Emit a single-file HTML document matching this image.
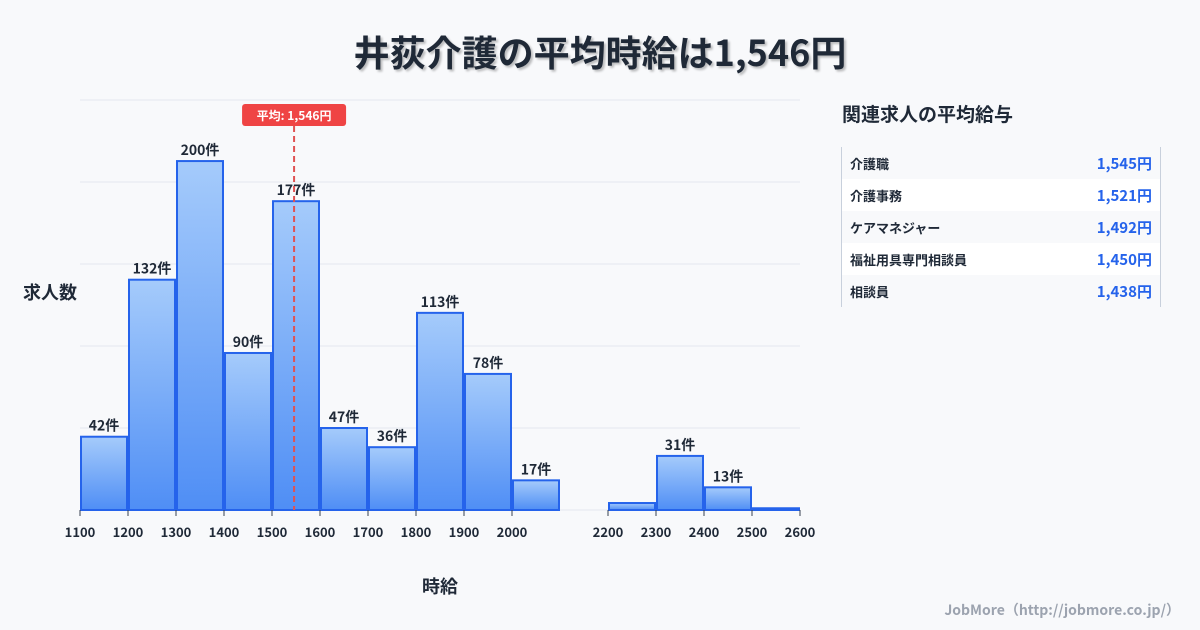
<!DOCTYPE html>
<html><head><meta charset="utf-8">
<style>
body{margin:0;width:1200px;height:630px;background:#f8f9fb;font-family:"Noto Sans CJK JP","Liberation Sans",sans-serif;overflow:hidden;position:relative}
#title{position:absolute;top:25px;left:0;width:1200px;text-align:center;font-size:36px;font-weight:bold;color:#1f2937;text-shadow:2px 2px 2px rgba(0,0,0,0.25)}
#panel-title{position:absolute;left:842px;top:100px;font-size:19px;font-weight:bold;color:#1f2937}
#panel{position:absolute;left:841px;top:147px;width:318px;border-left:1px solid #c8d0dc;border-right:1px solid #c8d0dc}
.row{height:32px;display:flex;justify-content:space-between;align-items:center;padding:0 8px 0 8px;font-size:13px;font-weight:bold;color:#1f2937}
.row:nth-child(even){background:#fff}
.row span.v{color:#2563eb;font-size:15px}
#footer{position:absolute;right:20px;top:600px;font-size:14px;font-weight:bold;color:#9ca3af}
</style></head><body>
<div id="title">井荻介護の平均時給は1,546円</div>
<svg id="chart" width="820" height="630" style="position:absolute;left:0;top:0"></svg>
<div id="panel-title">関連求人の平均給与</div>
<div id="panel">
<div class="row"><span>介護職</span><span class="v">1,545円</span></div>
<div class="row"><span>介護事務</span><span class="v">1,521円</span></div>
<div class="row"><span>ケアマネジャー</span><span class="v">1,492円</span></div>
<div class="row"><span>福祉用具専門相談員</span><span class="v">1,450円</span></div>
<div class="row"><span>相談員</span><span class="v">1,438円</span></div>
</div>
<div id="footer">JobMore（http://jobmore.co.jp/）</div>
<script>
const binStarts=[1100,1200,1300,1400,1500,1600,1700,1800,1900,2000,2100,2200,2300,2400,2500];
const counts=[42,132,200,90,177,47,36,113,78,17,0,4,31,13,1];
const showLabel=[true,true,true,true,true,true,true,true,true,true,false,false,true,true,false];
const tickValues=[1100,1200,1300,1400,1500,1600,1700,1800,1900,2000,2200,2300,2400,2500,2600];
const averageWage=1546;
const yMax=235;
const NS="http://www.w3.org/2000/svg";
const svg=document.getElementById('chart');
const X0=80,X1=800,Y0=510,Y1=100;
const xs=v=>X0+(v-1100)/(2600-1100)*(X1-X0);
const ys=v=>Y0-v/yMax*(Y0-Y1);
function mk(t,a,txt){const e=document.createElementNS(NS,t);for(const k in a)e.setAttribute(k,a[k]);if(txt!=null)e.textContent=txt;svg.appendChild(e);return e;}
const defs=mk('defs',{});
defs.innerHTML='<linearGradient id="bg" x1="0" y1="0" x2="0" y2="1"><stop offset="0" stop-color="#a5cbfb"/><stop offset="1" stop-color="#4f8ef5"/></linearGradient>';
for(let i=0;i<=5;i++){const y=Y0-i*(Y0-Y1)/5;
const g=mk('line',{x1:X0,x2:X1,y1:y,y2:y,stroke:'#e3e8ef','stroke-width':1});

}
binStarts.forEach((b,i)=>{
 if(counts[i]<=0)return;
 const x=xs(b)+1,w=xs(b+100)-xs(b)-2,y=ys(counts[i]);
 const r=mk('rect',{x:x,y:y,width:w,height:Y0-y,fill:'url(#bg)',stroke:'#2563eb','stroke-width':2});
 
 
 if(showLabel[i]){
 const t=mk('text',{x:x+w/2,y:y-6,'text-anchor':'middle','font-size':14,'font-weight':'bold',fill:'#1f2937'},counts[i]+'件');
 
 }
});
tickValues.forEach(v=>{
 const x=xs(v);
 const tk=mk('line',{x1:x,x2:x,y1:Y0,y2:Y0+6,stroke:'#374151','stroke-width':1});
 
 
 const t=mk('text',{x:x,y:Y0+27,'text-anchor':'middle','font-size':13,'font-weight':'bold',fill:'#1f2937'},String(v));
 
 
});
const ax=xs(averageWage);
const al=mk('line',{x1:ax,x2:ax,y1:126,y2:Y0,stroke:'#e05252','stroke-width':2,'stroke-dasharray':'6,4'});


const ab=mk('rect',{x:ax-52,y:104,width:104,height:22,rx:3,fill:'#ef4444'});


const at=mk('text',{x:ax,y:120,'text-anchor':'middle','font-size':12,'font-weight':'bold',fill:'#fff'},'平均: 1,546円');


const yt=mk('text',{x:50,y:299,'text-anchor':'middle','font-size':18,'font-weight':'bold',fill:'#1f2937'},'求人数');


const xt=mk('text',{x:440,y:593,'text-anchor':'middle','font-size':18,'font-weight':'bold',fill:'#1f2937'},'時給');


</script>
</body></html>
